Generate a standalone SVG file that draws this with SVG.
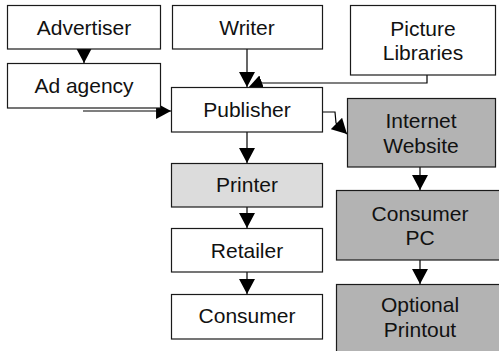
<svg xmlns="http://www.w3.org/2000/svg" width="499" height="351" viewBox="0 0 499 351">
<style>
.box{stroke:#1a1a1a;stroke-width:1.2;fill:#fff}
.lt{fill:#dcdcdc}
.dk{fill:#b3b3b3}
.t{font-family:"Liberation Sans",Arial,sans-serif;font-size:21px;fill:#111;text-anchor:middle}
.c{fill:none;stroke:#000;stroke-width:1.2}
</style>
<defs>
<marker id="ah" markerUnits="userSpaceOnUse" markerWidth="16" markerHeight="16" viewBox="0 0 15 15" refX="14" refY="7.5" orient="auto">
<path d="M0,0 L14,7.5 L0,15 z" fill="#000"/>
</marker>
</defs>
<rect width="499" height="351" fill="#fff"/>
<g id="connectors">
<path class="c" d="M84,49 V63" marker-end="url(#ah)"/>
<path class="c" d="M247,49 V87" marker-end="url(#ah)"/>
<path class="c" d="M427,75 V83 H262 L248,88" marker-end="url(#ah)"/>
<path class="c" d="M83,111 H171" marker-end="url(#ah)"/>
<path class="c" d="M322,112 H335 L336,123 L347,134" marker-end="url(#ah)"/>
<path class="c" d="M247,132 V163" marker-end="url(#ah)"/>
<path class="c" d="M247,207 V228" marker-end="url(#ah)"/>
<path class="c" d="M247,272 V294" marker-end="url(#ah)"/>
<path class="c" d="M420,167 V190" marker-end="url(#ah)"/>
<path class="c" d="M420,260 V284" marker-end="url(#ah)"/>
</g>
<g id="advertiser"><rect class="box" x="7.5" y="5.5" width="153" height="43.5"/><text class="t" x="84" y="35">Advertiser</text></g>
<g id="adagency"><rect class="box" x="7.5" y="63.5" width="153" height="44.5"/><text class="t" x="84" y="92.5">Ad agency</text></g>
<g id="writer"><rect class="box" x="172.5" y="5.5" width="150" height="43.5"/><text class="t" x="247" y="35">Writer</text></g>
<g id="picturelibraries"><rect class="box" x="350.5" y="5.5" width="145" height="69.5"/><text class="t" x="423" y="36">Picture</text><text class="t" x="423" y="60">Libraries</text></g>
<g id="publisher"><rect class="box" x="171.5" y="87.5" width="151" height="44.5"/><text class="t" x="247" y="117">Publisher</text></g>
<g id="printer"><rect class="box lt" x="171.5" y="163.5" width="151" height="43.5"/><text class="t" x="247" y="192">Printer</text></g>
<g id="retailer"><rect class="box" x="171.5" y="228.5" width="151" height="43.5"/><text class="t" x="247" y="258">Retailer</text></g>
<g id="consumer"><rect class="box" x="171.5" y="294.5" width="151" height="44.5"/><text class="t" x="247" y="323">Consumer</text></g>
<g id="internetwebsite"><rect class="box dk" x="347.5" y="98.5" width="148" height="68.5"/><text class="t" x="421" y="128">Internet</text><text class="t" x="421" y="153">Website</text></g>
<g id="consumerpc"><rect class="box dk" x="336.5" y="190.5" width="170" height="69.5"/><text class="t" x="420" y="221">Consumer</text><text class="t" x="420" y="245">PC</text></g>
<g id="optionalprintout"><rect class="box dk" x="336.5" y="284.5" width="170" height="75"/><text class="t" x="420" y="312">Optional</text><text class="t" x="420" y="337">Printout</text></g>
</svg>
